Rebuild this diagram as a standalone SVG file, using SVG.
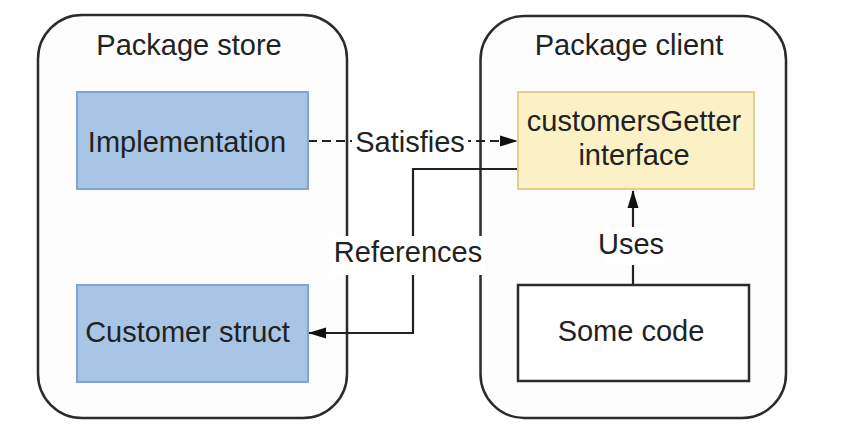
<svg xmlns="http://www.w3.org/2000/svg" width="852" height="440" viewBox="0 0 852 440">
<defs>
<style>
.pkg{fill:#fdfdfd;stroke:#2b2b2b;stroke-width:2.5}
.blue{fill:#a8c5e6;stroke:#7fa5d4;stroke-width:2}
.yellow{fill:#fcf1c6;stroke:#e2cf8e;stroke-width:2}
.plain{fill:#ffffff;stroke:#2b2b2b;stroke-width:2.5}
text{font-family:"Liberation Sans",Arial,sans-serif;font-size:29px;fill:#222;text-anchor:middle}
.line{fill:none;stroke:#222;stroke-width:2.2}
.dash{stroke-dasharray:9 5}
.bg{fill:#ffffff;stroke:none}
</style>
<marker id="arr" viewBox="0 0 18 12" refX="17" refY="6" markerWidth="18" markerHeight="12" markerUnits="userSpaceOnUse" orient="auto">
<path d="M0,0.5 L18,6 L0,11.5 Z" fill="#111"/>
</marker>
</defs>
<g id="package-store">
<rect class="pkg" x="38" y="15" width="309" height="403" rx="44" ry="44"/>
<text x="189" y="55">Package store</text>
</g>
<g id="package-client">
<rect class="pkg" x="480.5" y="16" width="305.5" height="402" rx="44" ry="44"/>
<text x="629" y="55">Package client</text>
</g>
<g id="connectors">
<path class="line dash" d="M308,141 H517" marker-end="url(#arr)"/>
<rect class="bg" x="352" y="124" width="116" height="36"/>
<text x="410" y="152">Satisfies</text>
<path class="line" d="M518,169 H413 V333 H309" marker-end="url(#arr)"/>
<rect class="bg" x="332" y="236" width="154" height="39"/>
<text x="408" y="262">References</text>
<path class="line" d="M633,285 V191" marker-end="url(#arr)"/>
<rect class="bg" x="603" y="227" width="60" height="38"/>
<text x="631" y="254">Uses</text>
</g>
<g id="implementation">
<rect class="blue" x="77" y="92" width="231" height="97"/>
<text x="187" y="152">Implementation</text>
</g>
<g id="customer-struct">
<rect class="blue" x="77" y="285" width="231" height="97"/>
<text x="187.5" y="342">Customer struct</text>
</g>
<g id="customers-getter">
<rect class="yellow" x="518" y="92" width="236" height="97"/>
<text x="634" y="131">customersGetter</text>
<text x="634" y="165">interface</text>
</g>
<g id="some-code">
<rect class="plain" x="518" y="285" width="231" height="96"/>
<text x="631" y="341">Some code</text>
</g>
</svg>
